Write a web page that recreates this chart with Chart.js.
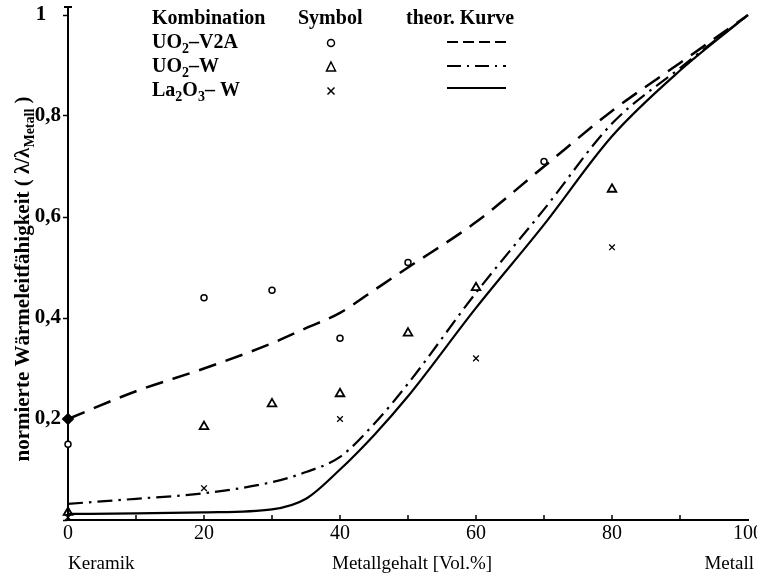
<!DOCTYPE html>
<html>
<head>
<meta charset="utf-8">
<script src="https://cdn.jsdelivr.net/npm/chart.js@4.4.1/dist/chart.umd.min.js"></script>
<style>
  html, body { margin: 0; padding: 0; background: #fff; }
</style>
</head>
<body>
<canvas id="chart" width="757" height="580"></canvas>
<script>
// Messpunkte (Metallgehalt in Vol.%, normierte Wärmeleitfähigkeit)
const v2aX = [0, 20, 30, 40, 50, 70];
const v2aY = [0.15, 0.44, 0.455, 0.36, 0.51, 0.71];
const uwX  = [0, 20, 30, 40, 50, 60, 80];
const uwY  = [0.015, 0.185, 0.23, 0.25, 0.37, 0.46, 0.655];
const laX  = [0, 20, 40, 60, 80];
const laY  = [0.005, 0.063, 0.2, 0.32, 0.54];

// theoretische Kurven
const curveX    = [0, 10, 20, 30, 35, 40, 45, 50, 60, 70, 80, 90, 100];
const kurveV2A  = [0.20, 0.255, 0.30, 0.35, 0.38, 0.41, 0.455, 0.50, 0.59, 0.70, 0.81, 0.905, 1.0];
const kurveUW   = [0.032, 0.042, 0.053, 0.075, 0.095, 0.125, 0.19, 0.27, 0.45, 0.615, 0.785, 0.895, 1.0];
const kurveLa   = [0.012, 0.013, 0.015, 0.021, 0.042, 0.10, 0.168, 0.245, 0.42, 0.585, 0.76, 0.89, 1.0];

// Legende: [Text, tiefgestellt]
const legendRows = [
  [['UO', 0], ['2', 1], ['–V2A', 0]],
  [['UO', 0], ['2', 1], ['–W', 0]],
  [['La', 0], ['2', 1], ['O', 0], ['3', 1], ['– W', 0]]
];
const yTitle = [['normierte Wärmeleitfähigkeit ( λ/λ', 0], ['Metall', 1], [' )', 0]];

const SERIF = '"Liberation Serif", "DejaVu Serif", serif';
const pts = (xs, ys) => xs.map((x, i) => ({ x: x, y: ys[i] }));

function richWidth(ctx, parts, size, weight) {
  let w = 0;
  parts.forEach(p => {
    ctx.font = weight + ' ' + (p[1] ? Math.round(size * 0.68) : size) + 'px ' + SERIF;
    w += ctx.measureText(p[0]).width;
  });
  return w;
}

function drawRich(ctx, parts, x, y, size, weight) {
  ctx.textBaseline = 'alphabetic';
  ctx.textAlign = 'left';
  parts.forEach(p => {
    ctx.font = weight + ' ' + (p[1] ? Math.round(size * 0.68) : size) + 'px ' + SERIF;
    ctx.fillText(p[0], x, p[1] ? y + size * 0.25 : y);
    x += ctx.measureText(p[0]).width;
  });
}

const extras = {
  id: 'extras',
  afterDraw(chart) {
    const { ctx, scales: { x, y } } = chart;
    ctx.save();
    ctx.strokeStyle = '#000';
    ctx.fillStyle = '#000';

    // kleine Teilstriche auf der x-Achse nach innen
    ctx.lineWidth = 1.5;
    x.ticks.forEach(t => {
      if (t.value <= 0 || t.value >= 100) return;
      const px = x.getPixelForValue(t.value);
      ctx.beginPath();
      ctx.moveTo(px, y.bottom);
      ctx.lineTo(px, y.bottom - 5);
      ctx.stroke();
    });

    // y-Achse oben verlängert
    ctx.lineWidth = 2;
    ctx.beginPath();
    ctx.moveTo(x.left, y.top);
    ctx.lineTo(x.left, y.top - 8);
    ctx.moveTo(x.left - 4, y.top - 8);
    ctx.lineTo(x.left + 4, y.top - 8);
    ctx.stroke();

    // Beschriftung unter der x-Achse
    ctx.font = '19px ' + SERIF;
    ctx.textBaseline = 'middle';
    ctx.textAlign = 'left';
    ctx.fillText('Keramik', 68, 564);
    ctx.fillText('Metallgehalt [Vol.%]', 332, 564);
    ctx.textAlign = 'right';
    ctx.fillText('Metall', 754, 564);

    // y-Titel gedreht
    ctx.save();
    ctx.translate(29, 279);
    ctx.rotate(-Math.PI / 2);
    const tw = richWidth(ctx, yTitle, 21, 'bold');
    drawRich(ctx, yTitle, -tw / 2, 0, 21, 'bold');
    ctx.restore();

    // Legende
    ctx.fillStyle = '#000';
    ctx.font = 'bold 20px ' + SERIF;
    ctx.textBaseline = 'alphabetic';
    ctx.textAlign = 'left';
    ctx.fillText('Kombination', 152, 24);
    ctx.fillText('Symbol', 298, 24);
    ctx.fillText('theor. Kurve', 406, 24);
    const rowY = [48, 72, 96];
    legendRows.forEach((r, i) => drawRich(ctx, r, 152, rowY[i], 20, 'bold'));

    // Symbole
    ctx.lineWidth = 1.5;
    ctx.beginPath();
    ctx.arc(331, 43, 3.5, 0, Math.PI * 2);
    ctx.stroke();
    ctx.beginPath();
    ctx.moveTo(331, 62); ctx.lineTo(335.5, 71); ctx.lineTo(326.5, 71); ctx.closePath();
    ctx.stroke();
    ctx.beginPath();
    ctx.moveTo(327.5, 87.5); ctx.lineTo(334.5, 94.5);
    ctx.moveTo(334.5, 87.5); ctx.lineTo(327.5, 94.5);
    ctx.stroke();

    // Linienmuster
    ctx.lineWidth = 2;
    const dashes = [[11, 5], [14, 6, 2, 6], []];
    [42, 66, 88].forEach((ly, i) => {
      ctx.setLineDash(dashes[i]);
      ctx.beginPath();
      ctx.moveTo(447, ly);
      ctx.lineTo(506, ly);
      ctx.stroke();
    });
    ctx.setLineDash([]);
    ctx.restore();
  }
};

const black = '#000';
new Chart(document.getElementById('chart'), {
  type: 'scatter',
  data: {
    datasets: [
      { label: 'UO2-V2A', data: pts(v2aX, v2aY), pointStyle: 'circle', pointRadius: 3,
        borderColor: black, backgroundColor: '#fff', borderWidth: 1.5, clip: false },
      { label: 'UO2-W', data: pts(uwX, uwY), pointStyle: 'triangle', pointRadius: 5,
        borderColor: black, backgroundColor: 'rgba(0,0,0,0)', borderWidth: 1.8, clip: false },
      { label: 'La2O3-W', data: pts(laX, laY), pointStyle: 'crossRot', pointRadius: 4,
        borderColor: black, borderWidth: 1.3, clip: false },
      { label: 'theor. UO2-V2A', data: pts(curveX, kurveV2A), showLine: true,
        borderColor: black, borderWidth: 2.5, borderDash: [18, 10],
        pointRadius: curveX.map((v, i) => i === 0 ? 4.5 : 0), pointStyle: 'rectRot',
        pointBackgroundColor: black, pointBorderColor: black,
        cubicInterpolationMode: 'monotone', clip: false },
      { label: 'theor. UO2-W', data: pts(curveX, kurveUW), showLine: true,
        borderColor: black, borderWidth: 2.2, borderDash: [15, 6, 2.5, 6],
        pointRadius: 0, cubicInterpolationMode: 'monotone', clip: false },
      { label: 'theor. La2O3-W', data: pts(curveX, kurveLa), showLine: true,
        borderColor: black, borderWidth: 2.2,
        pointRadius: 0, cubicInterpolationMode: 'monotone', clip: false }
    ]
  },
  options: {
    responsive: false,
    animation: false,
    devicePixelRatio: 1,
    layout: { padding: { top: 15, right: 9, left: 0, bottom: 0 } },
    plugins: { legend: { display: false }, tooltip: { enabled: false } },
    scales: {
      x: {
        type: 'linear', min: 0, max: 100,
        ticks: {
          stepSize: 10, autoSkip: false, maxRotation: 0, padding: 4, color: black,
          font: { family: SERIF, size: 20, lineHeight: 1 },
          callback: v => v % 20 === 0 ? String(v) : ''
        },
        grid: { drawOnChartArea: false, drawTicks: false },
        border: { color: black, width: 2 },
        afterFit: s => { s.height = 60; s.paddingLeft = 0; s.paddingRight = 0; }
      },
      y: {
        min: 0, max: 1,
        ticks: {
          stepSize: 0.2, padding: 2, color: black,
          font: { family: SERIF, size: 21, weight: 'bold' },
          callback: v => v === 0 ? '' : (v === 1 ? '1\u2002\u2009' : v.toFixed(1).replace('.', ','))
        },
        grid: { drawOnChartArea: false, drawTicks: true, tickLength: 5, color: black, tickWidth: 1.5 },
        border: { color: black, width: 2 },
        afterFit: s => { s.width = 68; s.paddingTop = 0; s.paddingBottom = 0; }
      }
    }
  },
  plugins: [extras]
});
</script>
</body>
</html>
